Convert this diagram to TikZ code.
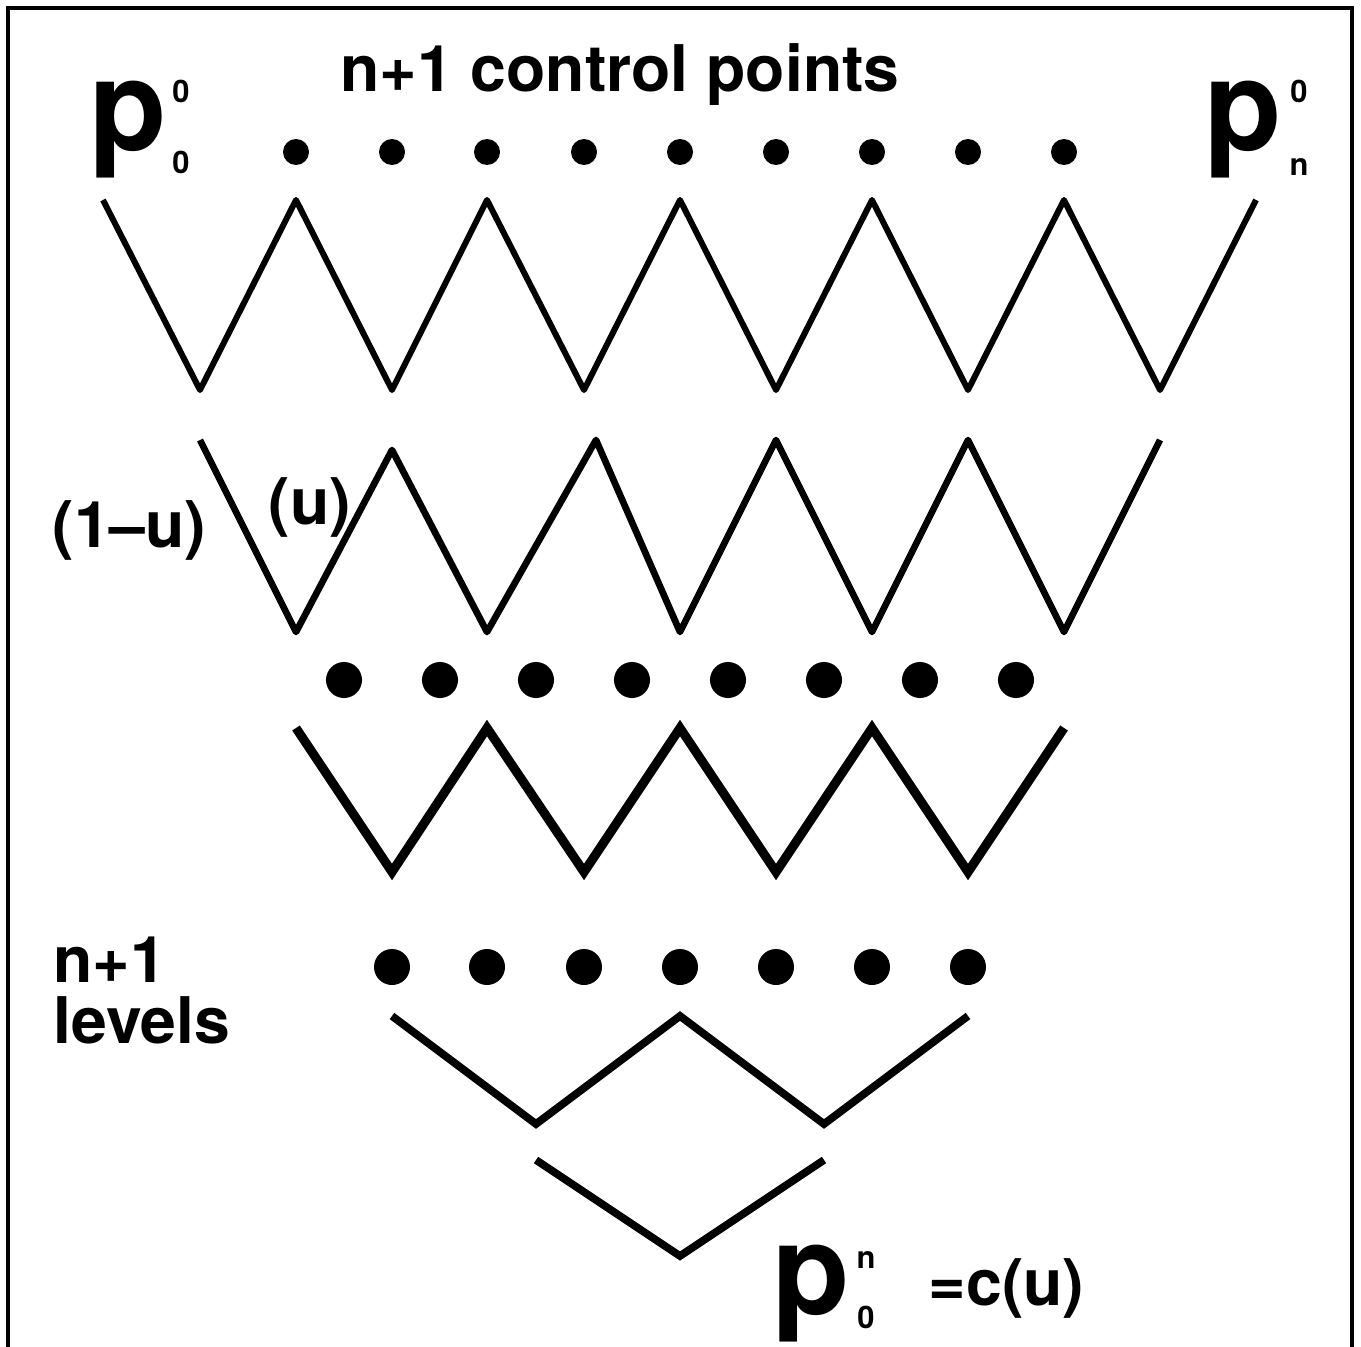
\documentclass[tikz,border=0pt]{standalone}
\usepackage{fontspec}
\setmainfont{TeX Gyre Heros}
\usetikzlibrary{positioning}
\tikzset{
  zig/.style={line width=1.7pt, line join=round},
  zigm/.style={line width=1.9pt, line join=round},
  zigw/.style={line width=2.6pt, line join=miter},
  zigv/.style={line width=2.2pt, line join=miter},
  lbl/.style={font=\fontsize{18.3}{20}\selectfont\bfseries, inner sep=0pt, anchor=base west},
  bigp/.style={font=\fontsize{36}{40}\selectfont\bfseries, inner sep=0pt, anchor=base west},
  idx/.style={font=\fontsize{8.8}{10}\selectfont\bfseries, inner sep=0pt, anchor=base},
}

\begin{document}
\begin{tikzpicture}[x=0.1mm, y=-0.1mm]
  \useasboundingbox (0,0) rectangle (1361,1347);
  % frame, open at the bottom
  \draw[line width=0.9pt] (8,1347) -- (8,8) -- (1352,8) -- (1352,1347);

  % labels
  \node[lbl, anchor=base] (title) at (620,92) {n+1 control points};
  \node[bigp] (p00) at (89,151) {p};
  \node[idx] (p00sup) at (181,103) {0};
  \node[idx] (p00sub) at (181,174) {0};
  \node[bigp] (p0n) at (1204,151) {p};
  \node[idx] (p0nsup) at (1299,103) {0};
  \node[idx] (p0nsub) at (1299,176) {n};
  \node[lbl] (oneminus) at (52,547) {(1\textendash u)};
  \node[lbl] (uweight) at (268,524) {(u)};
  \node[lbl] (levels1) at (53,982) {n+1};
  \node[lbl] (levels2) at (53,1043) {levels};
  \node[bigp] (pn0) at (772,1314) {p};
  \node[idx] (pn0sup) at (866,1268) {n};
  \node[idx] (pn0sub) at (866,1328) {0};
  \node[lbl] (cu) at (928,1305) {=c(u)};

  % level 0
  \foreach \x in {296,392,487,584,680,776,872,968,1064}
    \fill (\x,152) circle[radius=1.3mm];
  \draw[zig] (103,200) -- (200,390) -- (296,200) -- (392,390) -- (487,200)
    -- (584,390) -- (680,200) -- (776,390) -- (872,200) -- (968,390)
    -- (1064,200) -- (1160,390) -- (1256,200);

  % level 1
  \draw[zigm] (200,440) -- (296,632) -- (392,450) -- (487,632) -- (596,440)
    -- (680,632) -- (776,440) -- (872,632) -- (968,440) -- (1064,632)
    -- (1160,440);

  % middle levels
  \foreach \x in {344,440,536,632,728,824,920,1016}
    \fill (\x,680) circle[radius=1.8mm];
  \draw[zigw] (296,728) -- (392,872) -- (487,728) -- (584,872) -- (680,728)
    -- (776,872) -- (872,728) -- (968,872) -- (1064,728);
  \foreach \x in {392,487,584,680,776,872,968}
    \fill (\x,967) circle[radius=1.8mm];

  % last levels
  \draw[zigv] (392,1016) -- (536,1124) -- (680,1016) -- (824,1124) -- (968,1016);
  \draw[zigv] (536,1160) -- (680,1256) -- (824,1160);
\end{tikzpicture}
\end{document}
